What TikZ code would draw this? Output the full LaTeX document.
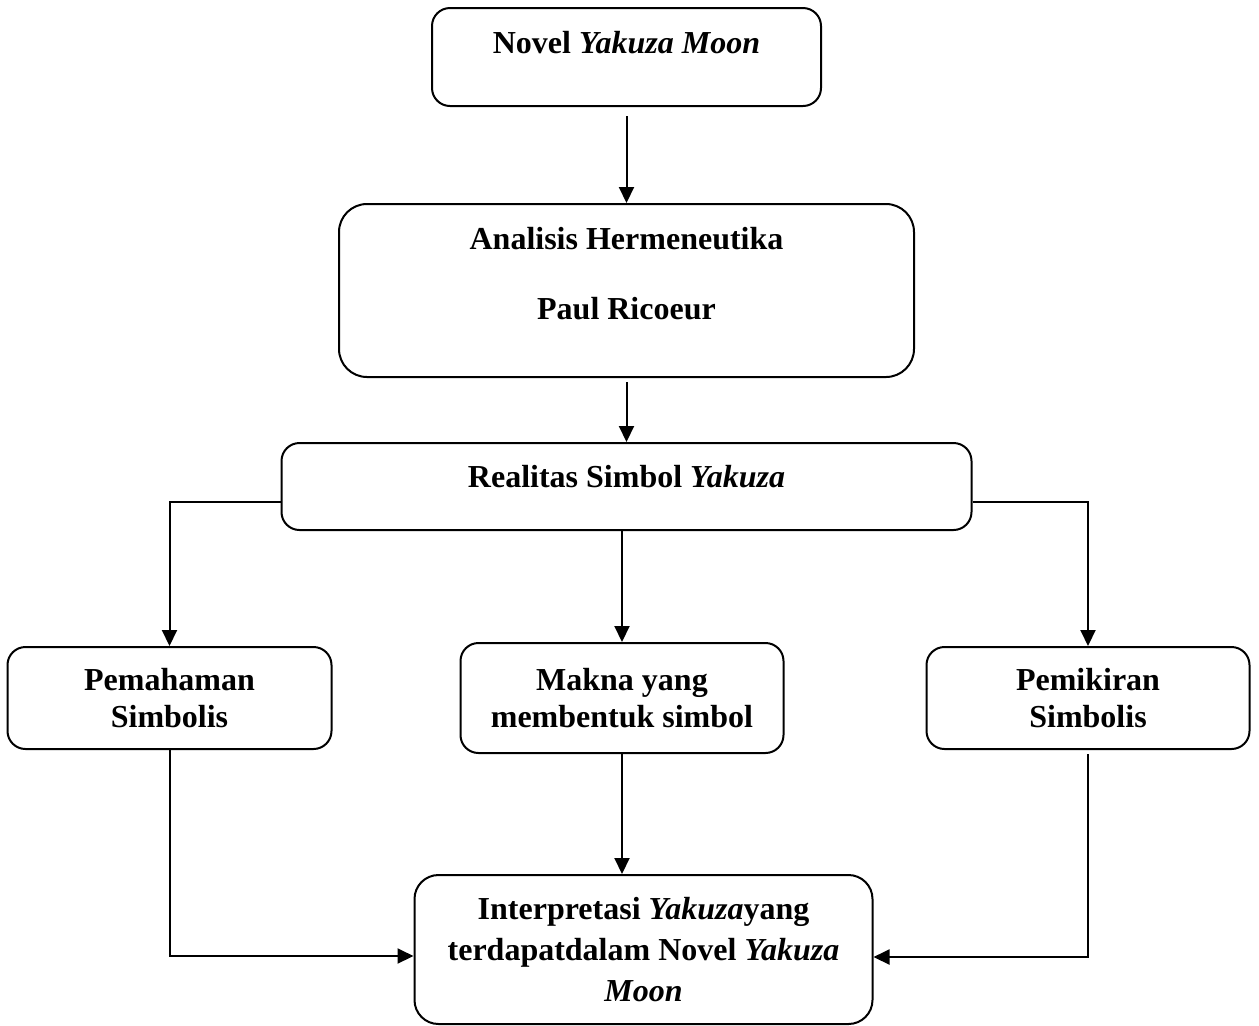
\documentclass[tikz,border=0pt]{standalone}
\usepackage{fontspec}
\setmainfont{Liberation Serif}
\usetikzlibrary{arrows.meta, positioning}

\tikzset{
    box/.style = {draw, line width=1pt, rounded corners=9pt, align=center, inner sep=0pt,
        font=\bfseries\fontsize{16}{18.5}\selectfont},
    arr/.style = {-{Triangle[length=8pt, width=7.5pt]}, line width=1pt}
}

\begin{document}
\begin{tikzpicture}[x=0.5pt, y=-0.5pt]
    \useasboundingbox (0,0) rectangle (1259,1025);
    \node (novel) [box, minimum width=194.5pt, minimum height=49pt, text depth=15pt] at (626.5,57) {Novel \textit{Yakuza Moon}};
    \node (analisis) [box, rounded corners=14pt, below=48pt of novel, minimum width=287.5pt, minimum height=86.5pt, text depth=17pt] {Analisis Hermeneutika\\[16.5pt]Paul Ricoeur};
    \node (realitas) [box, below=32pt of analisis, minimum width=345pt, minimum height=43.5pt, text depth=10pt] {Realitas Simbol \textit{Yakuza}};
    \node (makna) [box, below=55.5pt of realitas, xshift=-2.25pt, minimum width=161.5pt, minimum height=55pt] {Makna yang\\membentuk simbol};
    \node (pemahaman) [box, left=63.5pt of makna, minimum width=162pt, minimum height=51pt] {Pemahaman\\Simbolis};
    \node (pemikiran) [box, right=70.5pt of makna, minimum width=161.5pt, minimum height=51pt] {Pemikiran\\Simbolis};
    \node (interp) [box, rounded corners=12pt, below=60pt of makna, xshift=10.75pt, minimum width=229pt, minimum height=74.5pt,
        font=\bfseries\fontsize{16}{20.5}\selectfont] {Interpretasi \textit{Yakuza}yang\\terdapatdalam Novel \textit{Yakuza}\\\textit{Moon}};
    \draw [arr, shorten <=4.5pt] (novel) -- (analisis);
    \draw [arr, shorten <=2pt] (analisis) -- (realitas);
    \draw [arr] ([yshift=-7.75pt]realitas.west) -| (pemahaman);
    \draw [arr] (realitas.south -| makna.north) -- (makna);
    \draw [arr] ([yshift=-7.75pt]realitas.east) -| (pemikiran);
    \draw [arr] (pemahaman) |- ([yshift=-3.25pt]interp.west);
    \draw [arr] (makna) -- (makna.south |- interp.north);
    \draw [arr, shorten <=2pt] (pemikiran) |- ([yshift=-3.75pt]interp.east);
\end{tikzpicture}
\end{document}
